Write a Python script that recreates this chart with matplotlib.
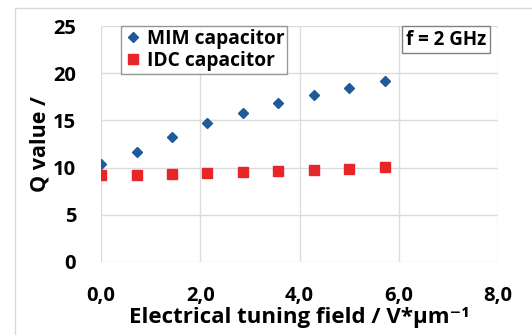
import matplotlib.pyplot as plt
from matplotlib.patches import Rectangle

field = [0.0, 0.714, 1.429, 2.143, 2.857, 3.571, 4.286, 5.0, 5.714]
q_mim = [10.4, 11.7, 13.3, 14.7, 15.8, 16.8, 17.7, 18.4, 19.2]
q_idc = [9.2, 9.25, 9.35, 9.45, 9.5, 9.6, 9.8, 9.9, 10.05]
xticks = [0, 2, 4, 6, 8]
xticklabels = ["0,0", "2,0", "4,0", "6,0", "8,0"]
yticks = [0, 5, 10, 15, 20, 25]

plt.rcParams['font.family'] = ['Open Sans', 'DejaVu Sans']
plt.rcParams['font.weight'] = 'bold'

fig = plt.figure(figsize=(5.32, 3.35), dpi=100)
# faint outer frame of the chart area
fig.patches.append(Rectangle((0.028, -0.1), 1.1, 1.075, transform=fig.transFigure,
                             fill=False, edgecolor="#d8d8d8", linewidth=1.0))
ax = fig.add_axes([0.19, 0.218, 0.746, 0.704])

ax.plot(field, q_mim, linestyle="none", marker="D", markersize=4.8, color="#1f5b99",
        label="MIM capacitor", zorder=3)
ax.plot(field, q_idc, linestyle="none", marker="s", markersize=7, color="#e8262a",
        label="IDC capacitor", zorder=3)

ax.set_xlim(0, 8)
ax.set_ylim(0, 25)
ax.set_xticks(xticks)
ax.set_xticklabels(xticklabels)
ax.set_yticks(yticks)
ax.tick_params(axis="x", length=0, labelsize=14.5, pad=17)
ax.tick_params(axis="y", length=0, labelsize=14.5, pad=18)
ax.grid(True, color="#dcdcdc", linewidth=1.0)
ax.set_axisbelow(True)
for s in ax.spines.values():
    s.set_visible(False)

ax.set_xlabel("Electrical tuning field / V*µm⁻¹", fontsize=16,
              fontweight="bold", labelpad=1)
ax.set_ylabel("Q value /", fontsize=15.5, fontweight="bold", labelpad=2)

leg = ax.legend(loc="upper left", bbox_to_anchor=(0.05, 1.0), fontsize=13.8,
                frameon=True, fancybox=False, edgecolor="#808080", handletextpad=0.2,
                borderpad=0.15, labelspacing=0.1, handlelength=1.0, borderaxespad=0.0)
leg.get_frame().set_linewidth(1.0)

ax.text(0.97, 0.985, "f = 2 GHz", transform=ax.transAxes, ha="right", va="top",
        fontsize=13.5, fontweight="bold",
        bbox=dict(boxstyle="square,pad=0.2", facecolor="white", edgecolor="#808080",
                  linewidth=1.0))

fig.savefig("out.png", dpi=100)
